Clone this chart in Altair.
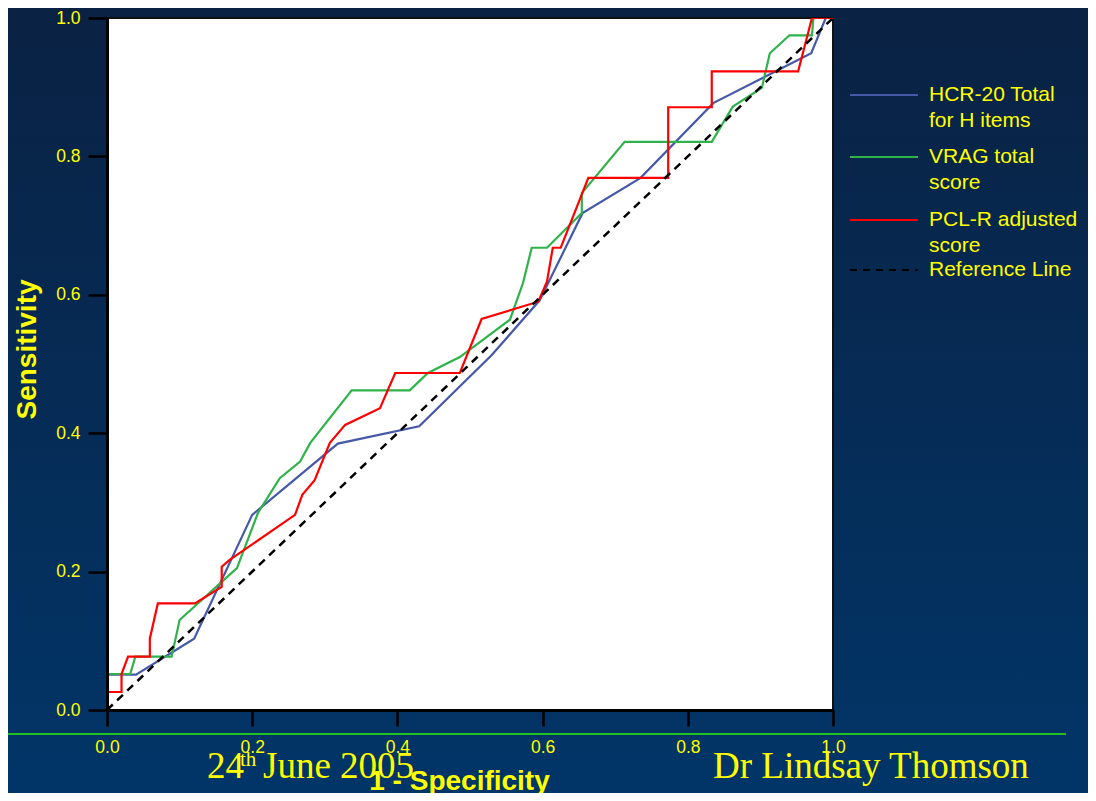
import altair as alt
import pandas as pd

# ---- data ----
series_names = ["HCR-20 Total\nfor H items", "VRAG total\nscore", "PCL-R adjusted\nscore", "Reference Line"]
series_colors = ["#4659a8", "#2fb24a", "#ff0000", "#000000"]

hcr_x = [0, 0, 0.04, 0.12, 0.2, 0.318, 0.43, 0.53, 0.596, 0.655, 0.735, 0.835, 0.97, 0.99, 1]
hcr_y = [0, 0.051, 0.051, 0.103, 0.282, 0.385, 0.41, 0.513, 0.592, 0.718, 0.769, 0.877, 0.949, 1, 1]

vrag_x = [0, 0, 0.032, 0.039, 0.089, 0.1, 0.179, 0.208, 0.238, 0.266, 0.28, 0.337, 0.417, 0.442,
          0.486, 0.555, 0.573, 0.585, 0.606, 0.654, 0.654, 0.713, 0.833, 0.862, 0.902, 0.913,
          0.94, 0.971, 0.973, 1]
vrag_y = [0, 0.052, 0.052, 0.077, 0.077, 0.13, 0.205, 0.285, 0.335, 0.359, 0.386, 0.462, 0.462, 0.487,
          0.51, 0.564, 0.617, 0.668, 0.668, 0.718, 0.747, 0.821, 0.821, 0.872, 0.899, 0.949,
          0.975, 0.975, 1, 1]

pcl_x = [0, 0, 0.02, 0.02, 0.029, 0.059, 0.059, 0.07, 0.121, 0.158, 0.158, 0.169, 0.259, 0.269,
         0.286, 0.307, 0.328, 0.376, 0.397, 0.486, 0.516, 0.594, 0.606, 0.614, 0.625, 0.663,
         0.773, 0.773, 0.833, 0.833, 0.952, 0.971, 1]
pcl_y = [0, 0.026, 0.026, 0.052, 0.077, 0.077, 0.103, 0.154, 0.154, 0.178, 0.207, 0.217, 0.282, 0.311,
         0.332, 0.386, 0.412, 0.436, 0.487, 0.487, 0.565, 0.59, 0.619, 0.668, 0.668, 0.769,
         0.769, 0.871, 0.871, 0.923, 0.923, 1, 1]

ref_x = [0, 1]
ref_y = [0, 1]

tick_values = [0.0, 0.2, 0.4, 0.6, 0.8, 1.0]
x_title = "1 - Specificity"
y_title = "Sensitivity"
footer_date_num = "24"
footer_date_sup = "th"
footer_date_rest = "June 2005"
footer_author = "Dr Lindsay Thomson"

YELLOW = "#ffff00"
W, H = 726, 692

rows = []
for name, xs, ys in zip(series_names, [hcr_x, vrag_x, pcl_x, ref_x], [hcr_y, vrag_y, pcl_y, ref_y]):
    for i, (a, b) in enumerate(zip(xs, ys)):
        rows.append({"series": name, "x": a, "y": b, "order": i})
df = pd.DataFrame(rows)
df_curves = df[df["series"] != series_names[3]]
df_ref = df[df["series"] == series_names[3]]

one = pd.DataFrame({"k": [0]})

color_scale = alt.Scale(domain=series_names, range=series_colors)
x_enc = alt.X("x:Q", scale=alt.Scale(domain=[0, 1], nice=False),
              axis=alt.Axis(values=tick_values, format=".1f", title=x_title, zindex=2,
                            labelFlush=False, titleX=352, titleY=57))
y_enc = alt.Y("y:Q", scale=alt.Scale(domain=[0, 1], nice=False),
              axis=alt.Axis(values=tick_values, format=".1f", title=y_title, zindex=2,
                            labelFlush=False, titleX=-66, titleY=331))

# background gradient covering whole chart
bg = alt.Chart(one).mark_rect(
    color=alt.Gradient(gradient="linear",
                       stops=[alt.GradientStop(color="#0a2142", offset=0),
                              alt.GradientStop(color="#013669", offset=1)],
                       x1=0, x2=0, y1=0, y2=1)
).encode(x=alt.value(-120), x2=alt.value(1100), y=alt.value(-30), y2=alt.value(800))

plot_bg = alt.Chart(one).mark_rect(fill="white", stroke="#111111", strokeWidth=2).encode(
    x=alt.value(0), x2=alt.value(W), y=alt.value(0), y2=alt.value(H))

green_rule = alt.Chart(one).mark_rule(color="#1fc01f", strokeWidth=2).encode(
    x=alt.value(-120), x2=alt.value(959), y=alt.value(716))

curves = alt.Chart(df_curves).mark_line(strokeWidth=2.2, clip=True).encode(
    x=x_enc, y=y_enc,
    color=alt.Color("series:N", scale=color_scale, legend=None),
    order="order:Q",
)

ref_line = alt.Chart(df_ref).mark_line(strokeWidth=2.5, strokeDash=[8, 6], clip=True).encode(
    x=x_enc, y=y_enc,
    color=alt.Color("series:N", scale=color_scale, legend=None),
    order="order:Q",
)

# manual legend (symbol line + wrapped label per series)
legend_layers = []
legend_y = [77, 139, 202, 252]
for name, ly in zip(series_names, legend_y):
    dash = [7, 6] if name == series_names[3] else [1, 0]
    sym = alt.Chart(pd.DataFrame({"series": [name]})).mark_rule(strokeWidth=2, strokeDash=dash).encode(
        x=alt.value(743), x2=alt.value(811), y=alt.value(ly),
        color=alt.Color("series:N", scale=color_scale, legend=None))
    lab = alt.Chart(pd.DataFrame({"series": [name]})).mark_text(
        align="left", baseline="middle", font="Liberation Sans", fontSize=21,
        color=YELLOW, lineBreak="\n", lineHeight=26).encode(
        x=alt.value(822), y=alt.value(ly), text="series:N")
    legend_layers += [sym, lab]


def txt(s, x, y, size, font="Liberation Serif"):
    return alt.Chart(one).mark_text(text=s, align="left", baseline="alphabetic",
                                    font=font, fontSize=size, color=YELLOW).encode(
        x=alt.value(x), y=alt.value(y))


footer = [txt(footer_date_num, 100, 760, 37), txt(footer_date_sup, 133, 748, 21),
          txt(footer_date_rest, 156, 760, 37), txt(footer_author, 606, 760, 37)]

chart = alt.layer(bg, plot_bg, green_rule, curves, ref_line, *legend_layers, *footer).properties(
    width=W, height=H,
    autosize=alt.AutoSizeParams(type="none"),
    padding={"left": 99, "top": 10, "right": 255, "bottom": 83},
).configure(
    background="#02386b",
).configure_view(
    strokeWidth=0,
).configure_axis(
    grid=False,
    domainColor="#000000", domainWidth=3,
    tickColor="#000000", tickWidth=2.5,
    labelColor=YELLOW, labelFont="Liberation Sans", labelFontSize=17.5,
    titleColor=YELLOW, titleFont="Liberation Sans", titleFontWeight="bold",
).configure_axisX(
    tickSize=16, labelPadding=12, titleFontSize=28, titlePadding=12,
).configure_axisY(
    tickSize=19, labelPadding=8, titleFontSize=28, titlePadding=12,
)

chart.save("out.html", embed_options={"renderer": "svg", "actions": False})
